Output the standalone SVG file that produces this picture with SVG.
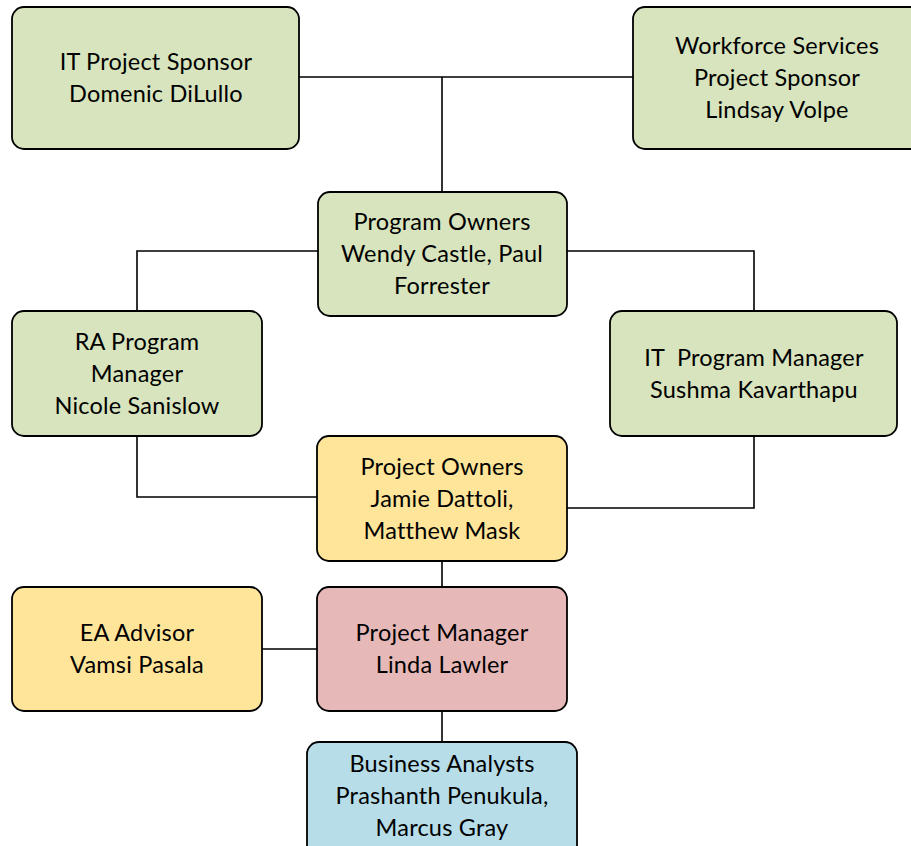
<svg xmlns="http://www.w3.org/2000/svg" width="911" height="846" viewBox="0 0 911 846">
<style>
.box{stroke:#000;stroke-width:1.8}
.g{fill:#d7e4bd}.y{fill:#fee599}.p{fill:#e6b9b8}.b{fill:#b7dde8}
text{font-family:Lato,"Liberation Sans",sans-serif;font-size:23.5px;letter-spacing:0.2px;fill:#000;text-anchor:middle}
.c{fill:none;stroke:#000;stroke-width:1.6}
</style>
<rect width="911" height="846" fill="#fff"/>
<g id="connectors">
<path class="c" d="M299 77H633M442 77V192"/>
<path class="c" d="M318 251H137V311M567 251H754V311"/>
<path class="c" d="M137 436V497H317M754 436V508H567"/>
<path class="c" d="M442 561V587M262 649H317M442 711V742"/>
</g>
<g id="it-sponsor"><rect class="box g" x="12" y="7" width="287" height="142" rx="12"/>
<text x="156" y="70">IT Project Sponsor</text><text x="156" y="102">Domenic DiLullo</text></g>
<g id="wf-sponsor"><rect class="box g" x="633" y="7" width="290" height="142" rx="12"/>
<text x="777" y="54">Workforce Services</text><text x="777" y="86">Project Sponsor</text><text x="777" y="118">Lindsay Volpe</text></g>
<g id="program-owners"><rect class="box g" x="318" y="192" width="249" height="124" rx="12"/>
<text x="442" y="230">Program Owners</text><text x="442" y="262">Wendy Castle, Paul</text><text x="442" y="294">Forrester</text></g>
<g id="ra-pm"><rect class="box g" x="12" y="311" width="250" height="125" rx="12"/>
<text x="137" y="350">RA Program</text><text x="137" y="382">Manager</text><text x="137" y="414">Nicole Sanislow</text></g>
<g id="it-pm"><rect class="box g" x="610" y="311" width="287" height="125" rx="12"/>
<text x="754" y="366" xml:space="preserve">IT  Program Manager</text><text x="754" y="398">Sushma Kavarthapu</text></g>
<g id="project-owners"><rect class="box y" x="317" y="436" width="250" height="125" rx="12"/>
<text x="442" y="475">Project Owners</text><text x="442" y="507">Jamie Dattoli,</text><text x="442" y="539">Matthew Mask</text></g>
<g id="ea-advisor"><rect class="box y" x="12" y="587" width="250" height="124" rx="12"/>
<text x="137" y="641">EA Advisor</text><text x="137" y="673">Vamsi Pasala</text></g>
<g id="project-manager"><rect class="box p" x="317" y="587" width="250" height="124" rx="12"/>
<text x="442" y="641">Project Manager</text><text x="442" y="673">Linda Lawler</text></g>
<g id="business-analysts"><rect class="box b" x="307" y="742" width="270" height="124" rx="12"/>
<text x="442" y="772">Business Analysts</text><text x="442" y="804">Prashanth Penukula,</text><text x="442" y="836">Marcus Gray</text></g>
</svg>
